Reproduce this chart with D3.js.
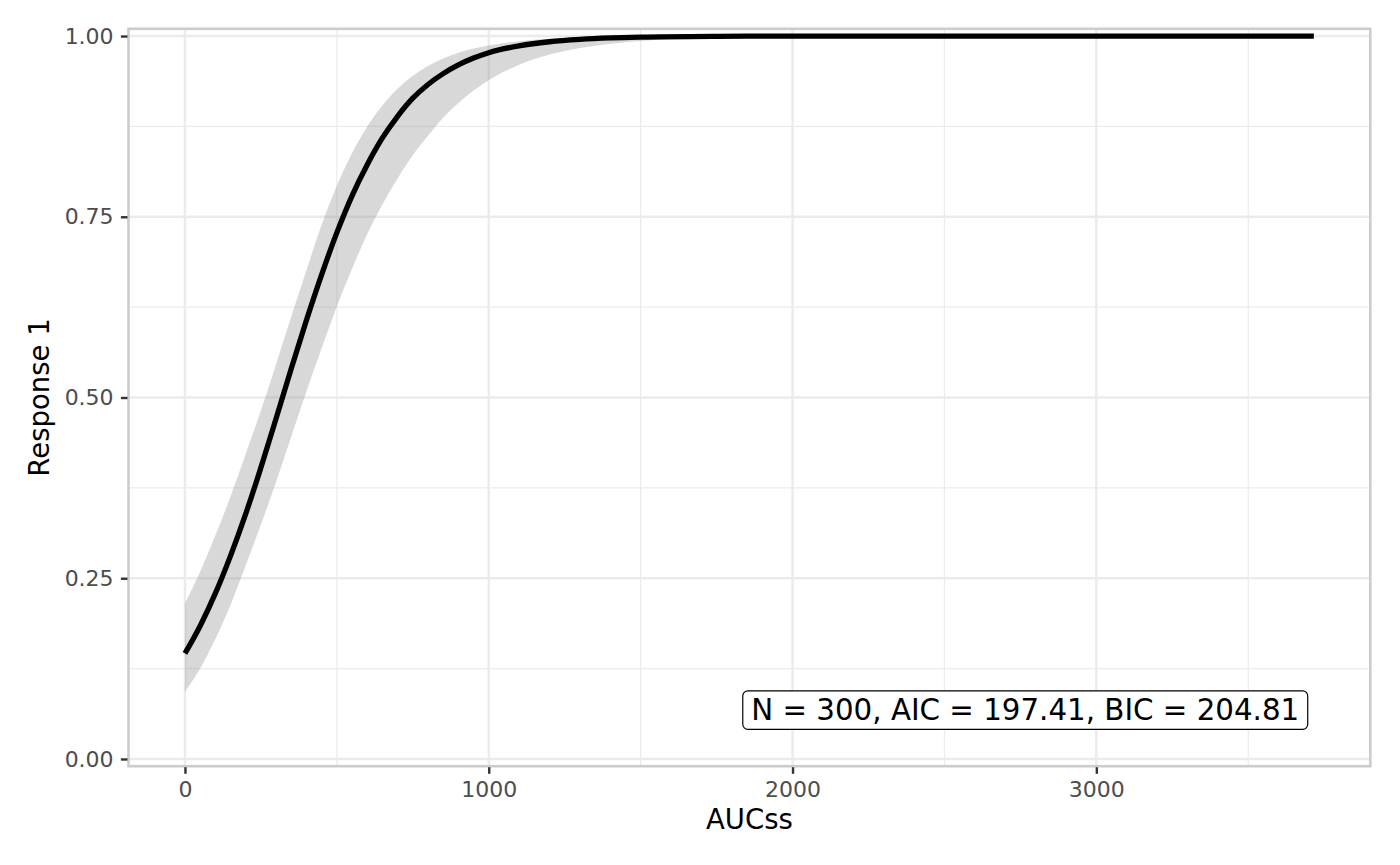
<!DOCTYPE html>
<html>
<head>
<meta charset="utf-8">
<script src="https://cdn.jsdelivr.net/npm/d3@7/dist/d3.min.js"></script>
<style>
  html, body { margin: 0; padding: 0; background: #ffffff; }
  svg { display: block; font-family: "DejaVu Sans", sans-serif; }
</style>
</head>
<body>
<svg id="chart" width="1400" height="865"></svg>
<script>
// ---- data ----
const auc    = [0, 50, 100, 150, 200, 250, 300, 350, 400, 450, 500, 550, 600, 650, 700, 750, 800, 850, 900, 950, 1000, 1100, 1200, 1300, 1400, 1500, 1750, 2000, 2500, 3000, 3716];
const fitted = [0.146, 0.184, 0.229, 0.281, 0.339, 0.403, 0.471, 0.540, 0.607, 0.670, 0.728, 0.779, 0.822, 0.859, 0.889, 0.914, 0.933, 0.948, 0.960, 0.9695, 0.977, 0.9864, 0.9921, 0.9954, 0.9974, 0.9985, 0.9996, 0.9999, 1, 1, 1];
const upper  = [0.215, 0.259, 0.309, 0.363, 0.422, 0.482, 0.546, 0.612, 0.676, 0.739, 0.793, 0.838, 0.875, 0.904, 0.927, 0.945, 0.9587, 0.969, 0.9769, 0.9827, 0.9870, 0.9929, 0.9961, 0.9978, 0.9988, 0.9993, 0.9999, 1, 1, 1, 1];
const lower  = [0.093, 0.125, 0.166, 0.213, 0.268, 0.324, 0.383, 0.446, 0.5085, 0.568, 0.626, 0.678, 0.726, 0.767, 0.803, 0.835, 0.862, 0.887, 0.9075, 0.9247, 0.939, 0.9603, 0.9743, 0.9834, 0.9894, 0.9932, 0.9978, 0.9993, 0.9999, 1, 1];

const xTicks = [0, 1000, 2000, 3000];
const xMinor = [500, 1500, 2500, 3500];
const yTicks = [0, 0.25, 0.5, 0.75, 1];
const yMinor = [0.125, 0.375, 0.625, 0.875];

const xTitle = "AUCss";
const yTitle = "Response 1";
const statsLabel = "N = 300, AIC = 197.41, BIC = 204.81";
const labelPos = [2766, 0.0675];

// ---- layout ----
const panel = { left: 128.5, right: 1370.3, top: 28.8, bottom: 766.2 };
const svg = d3.select("#chart");

const xMax = d3.max(auc), xMin = d3.min(auc);
const xPad = (xMax - xMin) * 0.05;
const x = d3.scaleLinear().domain([xMin - xPad, xMax + xPad]).range([panel.left, panel.right]);
const y = d3.scaleLinear().domain([-0.01, 1.01]).range([panel.bottom, panel.top]);

const rows = auc.map((a, i) => ({ a, f: fitted[i], lo: lower[i], hi: upper[i] }));

svg.append("rect").attr("width", 1400).attr("height", 865).attr("fill", "#ffffff");

const g = svg.append("g");
// grid
g.selectAll(".ymin").data(yMinor).enter().append("line")
  .attr("x1", panel.left).attr("x2", panel.right)
  .attr("y1", d => y(d)).attr("y2", d => y(d))
  .attr("stroke", "#ebebeb").attr("stroke-width", 1.2);
g.selectAll(".xmin").data(xMinor).enter().append("line")
  .attr("y1", panel.top).attr("y2", panel.bottom)
  .attr("x1", d => x(d)).attr("x2", d => x(d))
  .attr("stroke", "#ebebeb").attr("stroke-width", 1.2);
g.selectAll(".ymaj").data(yTicks).enter().append("line")
  .attr("x1", panel.left).attr("x2", panel.right)
  .attr("y1", d => y(d)).attr("y2", d => y(d))
  .attr("stroke", "#ebebeb").attr("stroke-width", 2.4);
g.selectAll(".xmaj").data(xTicks).enter().append("line")
  .attr("y1", panel.top).attr("y2", panel.bottom)
  .attr("x1", d => x(d)).attr("x2", d => x(d))
  .attr("stroke", "#ebebeb").attr("stroke-width", 2.4);

// ribbon
const area = d3.area().x(d => x(d.a)).y0(d => y(d.lo)).y1(d => y(d.hi)).curve(d3.curveMonotoneX);
g.append("path").datum(rows).attr("d", area).attr("fill", "#999999").attr("fill-opacity", 0.38);

// fitted line
const line = d3.line().x(d => x(d.a)).y(d => y(d.f)).curve(d3.curveMonotoneX);
g.append("path").datum(rows).attr("d", line).attr("fill", "none")
  .attr("stroke", "#000000").attr("stroke-width", 5.3).attr("stroke-linejoin", "round");

// label
const lbl = g.append("g");
const lt = lbl.append("text")
  .attr("x", x(labelPos[0])).attr("y", y(labelPos[1]))
  .attr("text-anchor", "middle").attr("dominant-baseline", "central")
  .attr("font-size", 29.3).attr("fill", "#000000").text(statsLabel);
const bb = lt.node().getBBox();
lbl.insert("rect", "text")
  .attr("x", bb.x - 8.5).attr("y", y(labelPos[1]) - 19.2)
  .attr("width", bb.width + 17).attr("height", 38.4)
  .attr("rx", 5).attr("ry", 5)
  .attr("fill", "#ffffff").attr("stroke", "#000000").attr("stroke-width", 1.2);

// border
svg.append("rect")
  .attr("x", panel.left).attr("y", panel.top)
  .attr("width", panel.right - panel.left).attr("height", panel.bottom - panel.top)
  .attr("fill", "none").attr("stroke", "#cccccc").attr("stroke-width", 2.6);

// axes
const xAxis = svg.append("g").attr("transform", `translate(0,${panel.bottom + 1})`)
  .call(d3.axisBottom(x).tickValues(xTicks).tickFormat(d3.format("d")).tickSize(6.6).tickPadding(7.3));
const yAxis = svg.append("g").attr("transform", `translate(${panel.left - 1},0)`)
  .call(d3.axisLeft(y).tickValues(yTicks).tickFormat(d3.format(".2f")).tickSize(6.6).tickPadding(7.3));
[xAxis, yAxis].forEach(ax => {
  ax.select(".domain").remove();
  ax.selectAll(".tick line").attr("stroke", "#333333").attr("stroke-width", 2.4);
  ax.selectAll(".tick text").attr("fill", "#4d4d4d").attr("font-size", 22)
    .attr("font-family", "DejaVu Sans");
});

// titles
svg.append("text").attr("x", (panel.left + panel.right) / 2).attr("y", 829)
  .attr("text-anchor", "middle").attr("font-size", 27.5).attr("fill", "#000000").text(xTitle);
svg.append("text").attr("transform", `translate(49,${(panel.top + panel.bottom) / 2}) rotate(-90)`)
  .attr("text-anchor", "middle").attr("font-size", 27.5).attr("fill", "#000000").text(yTitle);
</script>
</body>
</html>
